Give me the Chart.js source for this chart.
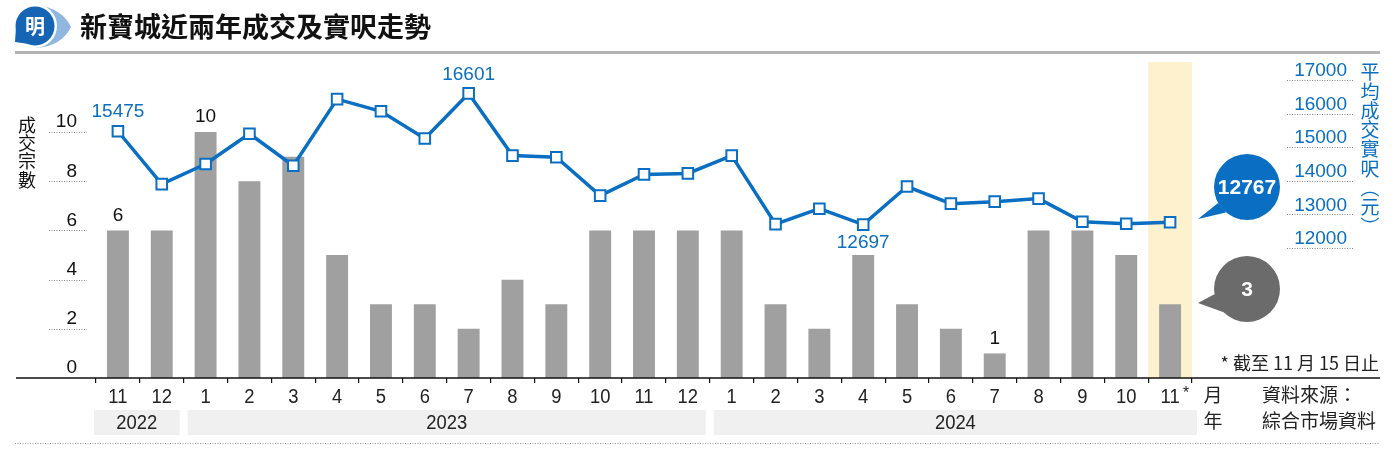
<!DOCTYPE html>
<html lang="zh-Hant">
<head>
<meta charset="utf-8">
<title>新寶城近兩年成交及實呎走勢</title>
<script src="https://cdn.jsdelivr.net/npm/chart.js@4.4.0/dist/chart.umd.min.js"></script>
<style>
  html, body { margin: 0; padding: 0; background: #fff; }
</style>
</head>
<body>
<canvas id="myChart" width="1400" height="456"></canvas>

<script>
// ---- data ----
var months = ['11', '12', '1', '2', '3', '4', '5', '6', '7', '8', '9', '10', '11', '12',
              '1', '2', '3', '4', '5', '6', '7', '8', '9', '10', '11*'];
var years = ['2022', '2023', '2024'];
var yearSpans = [2, 12, 11];

// 成交宗數
var deals = [6, 6, 10, 8, 9, 5, 3, 3, 2, 4, 3, 6, 6, 6, 6, 3, 2, 5, 3, 2, 1, 6, 6, 5, 3];
// 平均成交實呎 (元)
var prices = [15475, 13900, 14500, 15400, 14450, 16430, 16070, 15260, 16601, 14750, 14700,
              13560, 14190, 14220, 14750, 12710, 13170, 12697, 13830, 13320, 13380, 13470,
              12780, 12720, 12767];

var dealTicks = [0, 2, 4, 6, 8, 10];
var priceTicks = [12000, 13000, 14000, 15000, 16000, 17000];

// which points get a value label
var dealLabelIdx = [0, 2, 20];
var priceLabelIdx = [0, 8, 17];

var title = '新寶城近兩年成交及實呎走勢';
var leftTitle = '成交宗數';
var rightTitle = '平均成交實呎︵元︶';
var note = '* 截至 11 月 15 日止';

var BLUE = '#0a6fc2';
var GREY_BAR = '#a0a0a0';
var NUM = '"Liberation Sans", Arial, sans-serif';
var CJK = '"Noto Sans CJK TC", "Noto Sans CJK SC", sans-serif';

function txt(ctx, s, x, y, font, color, align) {
    ctx.font = font;
    ctx.fillStyle = color;
    ctx.textAlign = align || 'center';
    ctx.textBaseline = 'middle';
    ctx.fillText(s, x, y);
}

function dotted(ctx, x1, x2, y, color) {
    ctx.save();
    ctx.strokeStyle = color || '#888';
    ctx.lineWidth = 1;
    ctx.setLineDash([1, 1.5]);
    ctx.beginPath();
    ctx.moveTo(x1, Math.round(y) + 0.5);
    ctx.lineTo(x2, Math.round(y) + 0.5);
    ctx.stroke();
    ctx.restore();
}

function bubble(ctx, cx, cy, r, tip, a1, a2, color, label) {
    ctx.fillStyle = color;
    ctx.beginPath();
    ctx.arc(cx, cy, r, 0, Math.PI * 2);
    ctx.fill();
    ctx.beginPath();
    ctx.moveTo(cx + r * Math.cos(a1), cy + r * Math.sin(a1));
    ctx.lineTo(tip[0], tip[1]);
    ctx.lineTo(cx + r * Math.cos(a2), cy + r * Math.sin(a2));
    ctx.closePath();
    ctx.fill();
    txt(ctx, label, cx, cy + 1, 'bold 21px ' + NUM, '#fff');
}

var band = {
    id: 'band',
    beforeDatasetsDraw: function(chart) {
        var ctx = chart.ctx, x = chart.scales.x, area = chart.chartArea;
        var half = (x.getPixelForValue(1) - x.getPixelForValue(0)) / 2;
        var cx = x.getPixelForValue(months.length - 1);
        ctx.save();
        ctx.fillStyle = '#fdf2cd';
        ctx.fillRect(cx - half, area.top, half * 2, area.bottom - area.top);
        ctx.restore();
    }
};

var decor = {
    id: 'decor',
    afterDraw: function(chart) {
        var ctx = chart.ctx, area = chart.chartArea;
        var x = chart.scales.x, y = chart.scales.y, y1 = chart.scales.y1;
        var half = (x.getPixelForValue(1) - x.getPixelForValue(0)) / 2;
        ctx.save();

        // header logo
        ctx.fillStyle = '#8fb7e0';
        ctx.beginPath();
        ctx.moveTo(36, 5);
        ctx.quadraticCurveTo(62, 8, 71, 27);
        ctx.quadraticCurveTo(62, 46, 36, 48);
        ctx.closePath();
        ctx.fill();
        ctx.fillStyle = '#fff';
        ctx.beginPath();
        ctx.arc(35, 26, 22, 0, Math.PI * 2);
        ctx.fill();
        ctx.fillStyle = '#1665b5';
        ctx.beginPath();
        ctx.arc(35, 26, 19.5, 0, Math.PI * 2);
        ctx.fill();
        ctx.beginPath();
        ctx.moveTo(16, 27);
        ctx.lineTo(15, 42);
        ctx.lineTo(29, 44);
        ctx.closePath();
        ctx.fill();
        txt(ctx, '明', 35, 26, 'bold 20px ' + CJK, '#fff');

        txt(ctx, title, 80, 27, 'bold 27px ' + CJK, '#111', 'left');
        ctx.fillStyle = '#b3b3b3';
        ctx.fillRect(15, 51, 1365, 3);

        // baseline and bottom rule
        ctx.strokeStyle = '#111';
        ctx.lineWidth = 1.5;
        ctx.beginPath();
        ctx.moveTo(16, area.bottom);
        ctx.lineTo(1380, area.bottom);
        ctx.stroke();
        dotted(ctx, 15, 1380, 443, '#999');

        // left axis
        dealTicks.forEach(function(v) {
            var py = y.getPixelForValue(v);
            if (v > 0) dotted(ctx, 49, 87, py);
            txt(ctx, String(v), 77, py - 10, '19px ' + NUM, '#111', 'right');
        });
        for (var i = 0; i < leftTitle.length; i++) {
            txt(ctx, leftTitle[i], 27, 125 + i * 18.3, '18px ' + CJK, '#111');
        }

        // right axis
        priceTicks.forEach(function(v) {
            var py = y1.getPixelForValue(v);
            dotted(ctx, 1287, 1353, py);
            txt(ctx, String(v), 1347, py - 9, '19px ' + NUM, BLUE, 'right');
        });
        for (var j = 0; j < rightTitle.length; j++) {
            txt(ctx, rightTitle[j], 1370, 72 + j * 19.3, '19px ' + CJK, BLUE);
        }

        // year boxes
        var start = 0;
        years.forEach(function(yr, k) {
            var end = start + yearSpans[k] - 1;
            var l = x.getPixelForValue(start) - half + (k === 0 ? -2 : 4);
            var r = x.getPixelForValue(end) + half + (k === years.length - 1 ? 5 : -4);
            ctx.fillStyle = '#f0f0f0';
            ctx.fillRect(l, 410, r - l, 25);
            ctx.save();
            ctx.translate((l + r) / 2, 423);
            ctx.scale(0.92, 1);
            txt(ctx, yr, 0, 0, '20px ' + NUM, '#222');
            ctx.restore();
            start = end + 1;
        });

        // month labels
        months.forEach(function(m, i) {
            var px = x.getPixelForValue(i);
            var star = m.slice(-1) === '*';
            var base = star ? m.slice(0, -1) : m;
            ctx.save();
            ctx.translate(px, 397);
            ctx.scale(0.92, 1);
            txt(ctx, base, 0, 0, '20px ' + NUM, '#222');
            if (star) {
                var w = ctx.measureText(base).width;
                txt(ctx, '*', w / 2 + 7, -4, '17px ' + NUM, '#222');
            }
            ctx.restore();
        });
        txt(ctx, '月', 1213, 395, '19px ' + CJK, '#222');
        txt(ctx, '年', 1213, 421, '19px ' + CJK, '#222');
        txt(ctx, '資料來源：', 1262, 395, '19px ' + CJK, '#222', 'left');
        txt(ctx, '綜合市場資料', 1262, 421, '19px ' + CJK, '#222', 'left');
        txt(ctx, note, 1379, 363, '18px ' + CJK, '#222', 'right');

        // value labels
        var lineMeta = chart.getDatasetMeta(0), barMeta = chart.getDatasetMeta(1);
        priceLabelIdx.forEach(function(i) {
            var p = lineMeta.data[i];
            var below = prices[i] === Math.min.apply(null, prices);
            txt(ctx, String(prices[i]), p.x, below ? p.y + 18 : p.y - 19, '19px ' + NUM, BLUE);
        });
        dealLabelIdx.forEach(function(i) {
            var b = barMeta.data[i];
            txt(ctx, String(deals[i]), b.x, b.y - 15, '19px ' + NUM, '#111');
        });

        // callouts for latest month
        bubble(ctx, 1247, 187, 33, [1198, 219], Math.PI * 0.84, Math.PI * 0.72, BLUE,
               String(prices[prices.length - 1]));
        bubble(ctx, 1247, 289, 33, [1198, 303], Math.PI * 0.95, Math.PI * 0.75, '#6b6b6b',
               String(deals[deals.length - 1]));

        ctx.restore();
    }
};

var ctx = document.getElementById('myChart');
var myChart = new Chart(ctx, {
    type: 'bar',
    data: {
        labels: months,
        datasets: [{
            type: 'line',
            label: '平均成交實呎',
            data: prices,
            yAxisID: 'y1',
            order: 0,
            borderColor: BLUE,
            borderWidth: 3.5,
            tension: 0,
            pointStyle: 'rect',
            pointRadius: 7.5,
            pointBackgroundColor: '#fff',
            pointBorderColor: BLUE,
            pointBorderWidth: 2
        }, {
            label: '成交宗數',
            data: deals,
            yAxisID: 'y',
            order: 1,
            backgroundColor: GREY_BAR,
            categoryPercentage: 1,
            barPercentage: 0.5
        }]
    },
    options: {
        responsive: false,
        animation: false,
        layout: { padding: { left: 96, right: 208, top: 62, bottom: 48 } },
        plugins: { legend: { display: false }, tooltip: { enabled: false } },
        scales: {
            x: {
                offset: true,
                border: { display: false },
                grid: { offset: true, drawOnChartArea: false, drawTicks: true, tickLength: 5, color: '#111', lineWidth: 1.2 },
                ticks: { display: false },
                afterFit: function(s) { s.height = 30; }
            },
            y: { display: false, min: 0, max: 12.85 },
            y1: { display: false, min: 8131, max: 17536 }
        }
    },
    plugins: [band, decor]
});
</script>
</body>
</html>
